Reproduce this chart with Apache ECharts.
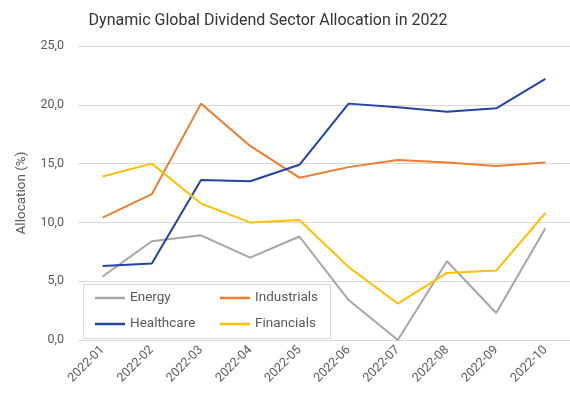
<!DOCTYPE html>
<html>
<head>
<meta charset="utf-8">
<script src="https://cdn.jsdelivr.net/npm/echarts@6/dist/echarts.min.js"></script>
<style>html,body{margin:0;padding:0;background:#fff}#c{width:570px;height:398px}</style>
</head>
<body>
<div id="c"></div>
<script>
const categories = ['2022-01','2022-02','2022-03','2022-04','2022-05','2022-06','2022-07','2022-08','2022-09','2022-10'];
const energy      = [5.4, 8.4, 8.9, 7.0, 8.8, 3.4, 0.0, 6.7, 2.3, 9.5];
const industrials = [10.4, 12.4, 20.1, 16.5, 13.8, 14.7, 15.3, 15.1, 14.8, 15.1];
const healthcare  = [6.3, 6.5, 13.6, 13.5, 14.9, 20.1, 19.8, 19.4, 19.7, 22.2];
const financials  = [13.9, 15.0, 11.6, 10.0, 10.2, 6.2, 3.1, 5.7, 5.9, 10.8];
const yTicks = [0, 5, 10, 15, 20, 25];

const FONT = 'Roboto';
const TXT = '#595959';
const chart = echarts.init(document.getElementById('c'));
function mk(name, data, color) {
  return { name, type: 'line', data, symbol: 'none', lineStyle: { width: 2, color }, itemStyle: { color }, z: 3 };
}
const legendCommon = {
  orient: 'vertical', icon: 'rect', itemWidth: 30, itemHeight: 2.5, itemGap: 12, padding: 0,
  textStyle: { color: TXT, fontFamily: FONT, fontSize: 13.5 }, z: 10
};
chart.setOption({
  animation: false,
  title: {
    text: 'Dynamic Global Dividend Sector Allocation in 2022',
    left: 263, top: 8, textAlign: 'center',
    textStyle: { fontFamily: FONT, fontWeight: 'normal', fontSize: 16, color: '#333' }
  },
  grid: { left: 78, top: 46, width: 499, height: 294, containLabel: false },
  xAxis: {
    type: 'category', data: categories, boundaryGap: true,
    axisLine: { lineStyle: { color: '#d9d9d9' } },
    axisTick: { show: false },
    axisLabel: { rotate: 45, color: TXT, fontFamily: FONT, fontSize: 12.5, margin: 8 }
  },
  yAxis: {
    type: 'value', min: yTicks[0], max: yTicks[yTicks.length - 1], interval: 5,
    name: 'Allocation (%)', nameLocation: 'middle', nameGap: 49,
    nameTextStyle: { color: TXT, fontFamily: FONT, fontSize: 13.5 },
    axisLine: { show: false }, axisTick: { show: false },
    axisLabel: { color: TXT, fontFamily: FONT, fontSize: 12.5, margin: 14, formatter: v => v.toFixed(1).replace('.', ',') },
    splitLine: { lineStyle: { color: '#d9d9d9' } }
  },
  legend: [
    Object.assign({ data: ['Energy', 'Healthcare'], left: 95, top: 291 }, legendCommon),
    Object.assign({ data: ['Industrials', 'Financials'], left: 220, top: 291 }, legendCommon)
  ],
  graphic: [{
    type: 'rect', left: 83, top: 284, z: 5,
    shape: { width: 247, height: 54 },
    style: { fill: '#fff', stroke: '#d9d9d9', lineWidth: 1 }
  }],
  series: [
    mk('Energy', energy, '#a5a5a5'),
    mk('Industrials', industrials, '#ed7d31'),
    mk('Healthcare', healthcare, '#2244a2'),
    mk('Financials', financials, '#ffc000')
  ]
});
</script>
</body>
</html>
